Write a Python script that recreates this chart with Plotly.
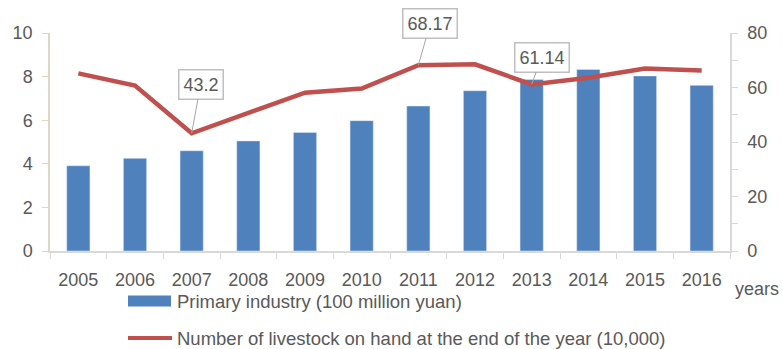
import plotly.graph_objects as go

years = ["2005", "2006", "2007", "2008", "2009", "2010", "2011", "2012", "2013", "2014", "2015", "2016"]
primary_industry = [3.91, 4.25, 4.6, 5.05, 5.44, 5.98, 6.65, 7.35, 7.87, 8.33, 8.03, 7.6]
livestock = [65.2, 60.7, 43.2, 50.6, 58.1, 59.6, 68.17, 68.5, 61.14, 63.6, 67.0, 66.2]
callout_years = ["2007", "2011", "2013"]
callout_labels = ["43.2", "68.17", "61.14"]
callout_offsets = [(9, -49), (12, -42), (10, -27)]

bar_name = "Primary industry (100 million yuan)"
line_name = "Number of livestock on hand at the end of the year (10,000)"

FONT = "Liberation Sans"
GREY = "#595959"

fig = go.Figure()
fig.add_trace(go.Bar(x=years, y=primary_industry, name=bar_name, marker_color="#4F81BD",
                     showlegend=False, yaxis="y"))
fig.add_trace(go.Scatter(x=years, y=livestock, name=line_name, mode="lines",
                         line=dict(color="#C0504D", width=4.5), showlegend=False, yaxis="y2"))

for yr, lab, (ax, ay) in zip(callout_years, callout_labels, callout_offsets):
    idx = years.index(yr)
    fig.add_annotation(x=idx, y=livestock[idx], xref="x", yref="y2", text=lab,
                       showarrow=True, arrowhead=0, arrowwidth=1, arrowcolor="#A6A6A6",
                       ax=ax, ay=ay, bgcolor="white", bordercolor="#BFBFBF", borderwidth=1.5,
                       borderpad=4, font=dict(family=FONT, size=18, color=GREY))

# legend (custom)
PW, PH = 680, 218
fig.add_shape(type="rect", xref="paper", yref="paper", x0=78 / PW, x1=121 / PW,
              y0=-(301 - 251 + 5.5) / PH, y1=-(301 - 251 - 5.5) / PH,
              fillcolor="#4F81BD", line=dict(width=0))
fig.add_annotation(xref="paper", yref="paper", x=125 / PW, y=-(301 - 251) / PH, text=bar_name,
                   showarrow=False, xanchor="left", yanchor="middle",
                   font=dict(family=FONT, size=18.5, color=GREY))
fig.add_shape(type="line", xref="paper", yref="paper", x0=78 / PW, x1=122 / PW,
              y0=-(338 - 251) / PH, y1=-(338 - 251) / PH,
              line=dict(color="#C0504D", width=4))
fig.add_annotation(xref="paper", yref="paper", x=125 / PW, y=-(338 - 251) / PH, text=line_name,
                   showarrow=False, xanchor="left", yanchor="middle",
                   font=dict(family=FONT, size=18.5, color=GREY))
fig.add_annotation(xref="paper", yref="paper", x=683 / PW, y=-(289 - 251) / PH, text="years",
                   showarrow=False, xanchor="left", yanchor="middle",
                   font=dict(family=FONT, size=18, color=GREY))

fig.update_layout(
    width=783, height=349,
    margin=dict(l=50, r=53, t=33, b=98),
    plot_bgcolor="white", paper_bgcolor="white",
    bargap=0.59,
    font=dict(family=FONT, size=18, color=GREY),
    xaxis=dict(type="category", range=[-0.5, len(years) - 0.5], showline=True,
               linecolor="#D9D9D9", linewidth=1.5,
               ticks="outside", tickson="boundaries", ticklen=6, tickcolor="#D9D9D9",
               ticklabelstandoff=12,
               showgrid=False, tickangle=0, tickfont=dict(family=FONT, size=18, color=GREY)),
    yaxis=dict(range=[0, 10], dtick=2, showgrid=False, showline=True, linecolor="#DDD8C4",
               linewidth=1.5, ticks="outside", ticklen=6, tickcolor="#DDD8C4", zeroline=False,
               ticklabelstandoff=6, tickfont=dict(family=FONT, size=18, color=GREY)),
    yaxis2=dict(range=[0, 80], dtick=20, overlaying="y", side="right", showgrid=False,
                showline=True, linecolor="#D9D9D9", linewidth=1.5, ticks="outside", ticklen=6,
                tickcolor="#D9D9D9", zeroline=False, ticklabelstandoff=6,
                minor=dict(ticks="outside", dtick=10, ticklen=6, tickcolor="#D9D9D9"),
                tickfont=dict(family=FONT, size=18, color=GREY)),
)

fig.write_html("out.html")
